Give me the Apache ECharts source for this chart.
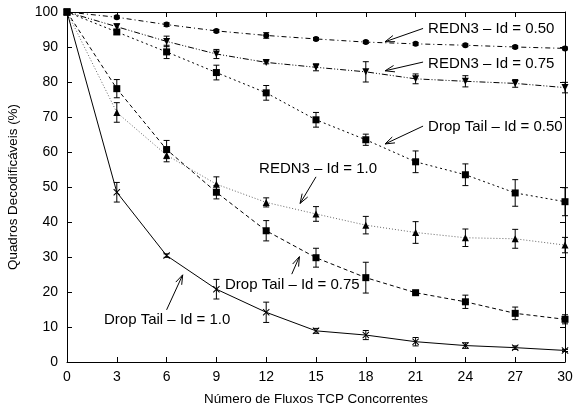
<!DOCTYPE html>
<html>
<head>
<meta charset="utf-8">
<script src="https://cdn.jsdelivr.net/npm/echarts@6/dist/echarts.min.js"></script>
<style>
  html, body { margin: 0; padding: 0; background: #fff; }
  #chart { width: 573px; height: 411px; }
</style>
</head>
<body>
<div id="chart"></div>
<script>
// Number of concurrent TCP flows
const flows = [0, 3, 6, 9, 12, 15, 18, 21, 24, 27, 30];

// Decodable frames (%) and their confidence half-widths
const redn3Id050 = [100, 98.5, 96.4, 94.6, 93.3, 92.3, 91.4, 90.9, 90.5, 90.0, 89.6];
const redn3Id050Err = [0, 0.4, 0.5, 0.4, 0.8, 0.4, 0.4, 0.4, 0.4, 0.4, 0.4];

const redn3Id075 = [100, 95.8, 91.6, 88.0, 85.6, 84.2, 82.9, 80.9, 80.2, 79.6, 78.4];
const redn3Id075Err = [0, 0.8, 1.5, 1.3, 0.4, 1.0, 2.9, 1.4, 1.6, 1.1, 1.5];

const dropTailId050 = [100, 94.3, 88.6, 82.7, 76.9, 69.2, 63.5, 57.2, 53.5, 48.3, 45.8];
const dropTailId050Err = [0, 0.7, 1.9, 2.1, 2.1, 2.1, 1.6, 3.1, 3.1, 3.8, 4.0];

const dropTailId075 = [100, 78.1, 60.7, 48.5, 37.5, 29.8, 24.1, 19.8, 17.2, 13.9, 12.2];
const dropTailId075Err = [0, 2.6, 2.6, 1.9, 2.9, 2.7, 4.4, 0.4, 1.9, 1.8, 1.3];

const redn3Id100 = [100, 71.3, 59.1, 50.8, 45.6, 42.3, 39.1, 37.0, 35.5, 35.2, 33.4];
const redn3Id100Err = [0, 2.8, 1.9, 2.1, 1.3, 2.1, 2.5, 3.1, 2.5, 2.7, 2.2];

const dropTailId100 = [100, 48.5, 30.4, 20.8, 14.2, 8.9, 7.7, 5.8, 4.7, 4.1, 3.3];
const dropTailId100Err = [0, 2.8, 0.5, 2.8, 2.9, 0.7, 1.3, 1.2, 0.8, 0.5, 0.3];

// Axis ticks
const xTicks = { min: 0, max: 30, interval: 3 };
const yTicks = { min: 0, max: 100, interval: 10 };

// Callout labels: text, label anchor (x, y), arrow start (x, y), arrow tip (x, y)
const calloutTexts = [
  'REDN3 \u2013 Id = 0.50',
  'REDN3 \u2013 Id = 0.75',
  'Drop Tail \u2013 Id = 0.50',
  'REDN3 \u2013 Id = 1.0',
  'Drop Tail \u2013 Id = 0.75',
  'Drop Tail \u2013 Id = 1.0'
];
const calloutLabelAt = [[21.75, 95.1], [21.75, 85.3], [21.75, 67.2], [11.57, 55.1], [9.52, 22.0], [2.23, 12.0]];
const calloutArrowFrom = [[21.45, 95.3], [21.45, 85.7], [21.45, 67.4], [15.0, 52.9], [13.54, 25.1], [6.0, 14.9]];
const calloutArrowTo = [[19.16, 91.5], [19.16, 83.2], [19.16, 62.3], [14.04, 45.3], [14.0, 30.1], [6.97, 24.9]];

const FONT = '"Liberation Sans", Arial, Helvetica, sans-serif';
const crossSymbol = 'path://M0,1L1,0L5,4L9,0L10,1L6,5L10,9L9,10L5,6L1,10L0,9L4,5Z';

const pairs = (ys) => flows.map((x, i) => [x, ys[i]]);
const triples = (ys, es) => flows.map((x, i) => [x, ys[i], es[i]]);

const seriesDefs = [
  { name: 'REDN3 - Id = 0.50', values: redn3Id050, errs: redn3Id050Err, symbol: 'circle', size: 6, rotate: 0, dash: [5, 3, 1, 3], lineColor: '#000' },
  { name: 'REDN3 - Id = 0.75', values: redn3Id075, errs: redn3Id075Err, symbol: 'triangle', size: 7, rotate: 180, dash: [6, 2, 1, 2, 1, 2], lineColor: '#000' },
  { name: 'Drop Tail - Id = 0.50', values: dropTailId050, errs: dropTailId050Err, symbol: 'rect', size: 7, rotate: 0, dash: [2, 3], lineColor: '#000' },
  { name: 'Drop Tail - Id = 0.75', values: dropTailId075, errs: dropTailId075Err, symbol: 'rect', size: 7, rotate: 0, dash: [4, 3], lineColor: '#000' },
  { name: 'REDN3 - Id = 1.0', values: redn3Id100, errs: redn3Id100Err, symbol: 'triangle', size: 7, rotate: 0, dash: [1, 2], lineColor: '#666' },
  { name: 'Drop Tail - Id = 1.0', values: dropTailId100, errs: dropTailId100Err, symbol: crossSymbol, size: 7, rotate: 0, dash: 'solid', lineColor: '#000' }
];

function renderErrorBar(params, api) {
  const x = api.value(0), y = api.value(1), e = api.value(2);
  if (!e) return null;
  const top = api.coord([x, y + e]);
  const bot = api.coord([x, y - e]);
  const cap = 3;
  const style = { stroke: '#000', lineWidth: 1 };
  return {
    type: 'group',
    children: [
      { type: 'line', shape: { x1: top[0], y1: top[1], x2: bot[0], y2: bot[1] }, style },
      { type: 'line', shape: { x1: top[0] - cap, y1: top[1], x2: top[0] + cap, y2: top[1] }, style },
      { type: 'line', shape: { x1: bot[0] - cap, y1: bot[1], x2: bot[0] + cap, y2: bot[1] }, style }
    ]
  };
}

function renderCallout(params, api) {
  const i = params.dataIndex;
  const t = api.coord([api.value(0), api.value(1)]);
  const p0 = api.coord([api.value(2), api.value(3)]);
  const p1 = api.coord([api.value(4), api.value(5)]);
  const a = Math.atan2(p1[1] - p0[1], p1[0] - p0[0]);
  const len = 10, h = 0.33;
  const head = [
    [p1[0] - len * Math.cos(a - h), p1[1] - len * Math.sin(a - h)],
    [p1[0], p1[1]],
    [p1[0] - len * Math.cos(a + h), p1[1] - len * Math.sin(a + h)]
  ];
  const style = { stroke: '#000', lineWidth: 1, fill: null };
  return {
    type: 'group',
    children: [
      { type: 'line', shape: { x1: p0[0], y1: p0[1], x2: p1[0], y2: p1[1] }, style },
      { type: 'polyline', shape: { points: head }, style },
      {
        type: 'text',
        style: {
          text: calloutTexts[i], x: t[0], y: t[1],
          verticalAlign: 'middle', align: 'left',
          font: '15px ' + FONT, fill: '#000'
        }
      }
    ]
  };
}

const series = [];
seriesDefs.forEach((d) => {
  series.push({
    name: d.name,
    type: 'line',
    data: pairs(d.values),
    symbol: d.symbol,
    symbolSize: d.size,
    symbolRotate: d.rotate,
    showAllSymbol: true,
    clip: false,
    itemStyle: { color: '#000', borderWidth: 0 },
    lineStyle: { color: d.lineColor, width: 1, type: d.dash },
    emphasis: { disabled: true },
    animation: false,
    z: 3
  });
  series.push({
    type: 'custom',
    data: triples(d.values, d.errs),
    renderItem: renderErrorBar,
    encode: { x: 0, y: 1 },
    clip: false,
    silent: true,
    animation: false,
    z: 2
  });
});

series.push({
  type: 'custom',
  data: calloutTexts.map((_, i) => [
    calloutLabelAt[i][0], calloutLabelAt[i][1],
    calloutArrowFrom[i][0], calloutArrowFrom[i][1],
    calloutArrowTo[i][0], calloutArrowTo[i][1]
  ]),
  renderItem: renderCallout,
  encode: { x: 0, y: 1 },
  clip: false,
  silent: true,
  animation: false,
  z: 4
});

const axisLine = { show: true, onZero: false, lineStyle: { color: '#000', width: 1 } };
const tickIn = { show: true, inside: true, length: 5, lineStyle: { color: '#000', width: 1 } };

const option = {
  backgroundColor: '#fff',
  animation: false,
  grid: { left: 67, right: 8, top: 12, bottom: 49, containLabel: false, outerBoundsMode: 'none' },
  xAxis: [
    {
      type: 'value', position: 'bottom', ...xTicks,
      name: 'N\u00famero de Fluxos TCP Concorrentes',
      nameLocation: 'middle', nameGap: 31,
      nameTextStyle: { color: '#000', fontFamily: FONT, fontSize: 13.4 },
      axisLine, axisTick: tickIn,
      axisLabel: { color: '#000', fontFamily: FONT, fontSize: 14, margin: 8 },
      splitLine: { show: false }
    },
    {
      type: 'value', position: 'top', ...xTicks,
      axisLine, axisTick: tickIn,
      axisLabel: { show: false }, splitLine: { show: false }
    }
  ],
  yAxis: [
    {
      type: 'value', position: 'left', ...yTicks,
      name: 'Quadros Decodific\u00e1veis (%)',
      nameLocation: 'middle', nameGap: 47,
      nameTextStyle: { color: '#000', fontFamily: FONT, fontSize: 13.4 },
      axisLine, axisTick: tickIn,
      axisLabel: { color: '#000', fontFamily: FONT, fontSize: 14, margin: 9 },
      splitLine: { show: false }
    },
    {
      type: 'value', position: 'right', ...yTicks,
      axisLine, axisTick: tickIn,
      axisLabel: { show: false }, splitLine: { show: false }
    }
  ],
  series
};

const chart = echarts.init(document.getElementById('chart'), null, { renderer: 'canvas' });
chart.setOption(option);
</script>
</body>
</html>
